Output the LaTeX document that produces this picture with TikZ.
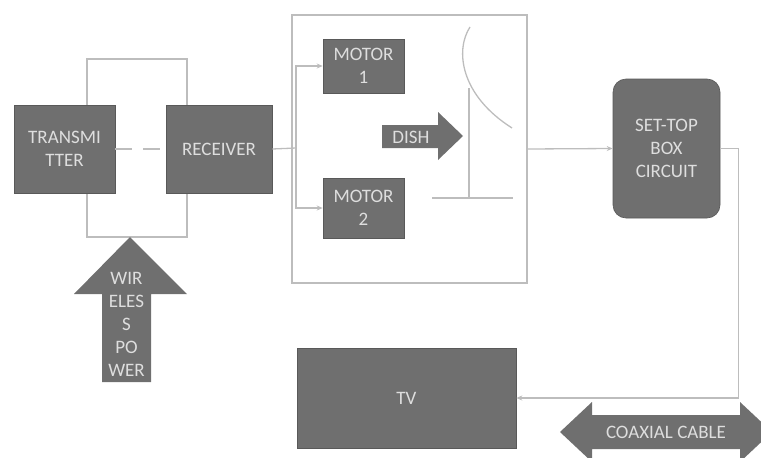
\documentclass[tikz,border=0pt]{standalone}
\usepackage{fontspec}
\setmainfont{Carlito}
\usetikzlibrary{arrows.meta}
\definecolor{boxfill}{HTML}{6F6F6F}
\definecolor{boxtext}{HTML}{DEDEDE}
\definecolor{linec}{HTML}{BDBDBD}
\begin{document}
\begin{tikzpicture}[x=1pt,y=-1pt,
  blk/.style={draw=boxfill!80!black,line width=0.6pt,fill=boxfill,text=boxtext,inner sep=0pt,align=center,
    font=\fontsize{19}{23}\selectfont},
  thin/.style={draw=linec,line width=1.3pt},
  conn/.style={draw=linec,line width=1.3pt,-{Stealth[length=6pt,width=5pt]}},
  label/.style={text=boxtext,align=center,inner sep=0pt,font=\fontsize{19}{23}\selectfont}]
\useasboundingbox (0,0) rectangle (761,458);
\clip (0,0) rectangle (761,458);
% outer thin frames
\node[thin,minimum width=100pt,minimum height=178pt,inner sep=0pt] (loop) at (137,148) {};
\node[thin,minimum width=235pt,minimum height=268pt,inner sep=0pt] (frame) at (409.5,149) {};
% blocks
\node[blk,minimum width=101pt,minimum height=88pt] (tx) at (64.5,149) {TRANSMI\\TTER};
\node[blk,minimum width=106pt,minimum height=88pt] (rx) at (219,149) {RECEIVER};
\node[blk,minimum width=81pt,minimum height=54pt] (m1) at (363.5,66) {MOTOR\\1};
\node[blk,minimum width=81pt,minimum height=60pt] (m2) at (363.5,208) {MOTOR\\2};
\node[blk,rounded corners=13pt,minimum width=107pt,minimum height=139pt] (stb) at (666.5,148.5) {SET-TOP\\BOX\\CIRCUIT};
\node[blk,minimum width=219pt,minimum height=100pt] (tv) at (406.5,398) {TV};
% wireless link
\draw[thin,dash pattern=on 17pt off 11pt] (tx.east) -- (rx.east -| rx.west);
% receiver to motors
\coordinate (j) at (296,148);
\draw[thin] (rx.east) -- (j);
\draw[conn] (j) |- (m1.west);
\draw[conn] (j) |- (m2.west);
% dish arrow
\fill[boxfill] (382,125) -- (438,125) -- (438,112) -- (463,136) -- (438,160) -- (438,148) -- (382,148) -- cycle;
\node[label] (dish) at (411,137) {DISH};
% dish drawing
\draw[thin] (470,27) .. controls (455,50) and (460,95) .. (512,128);
\draw[thin] (469,88) -- (469,198);
\draw[thin] (432,198) -- (513,198);
% frame to set-top box
\draw[conn] (frame.east) -- (stb.west);
% set-top box to TV
\draw[conn] (stb.east) -- ++(18,0) |- (tv.east);
% wireless power arrow
\fill[boxfill] (130,237) -- (187,294) -- (151,294) -- (151,382) -- (102,382) -- (102,294) -- (74,294) -- cycle;
\node[label] (wp) at (126.5,324.5) {WIR\\ELES\\S\\PO\\WER};
% coaxial cable arrow
\fill[boxfill] (560,432) -- (592,402) -- (592,415) -- (740,415) -- (740,402) -- (772,432) -- (740,462) -- (740,449) -- (592,449) -- (592,462) -- cycle;
\node[label] (coax) at (666,432) {COAXIAL CABLE};
\end{tikzpicture}
\end{document}
